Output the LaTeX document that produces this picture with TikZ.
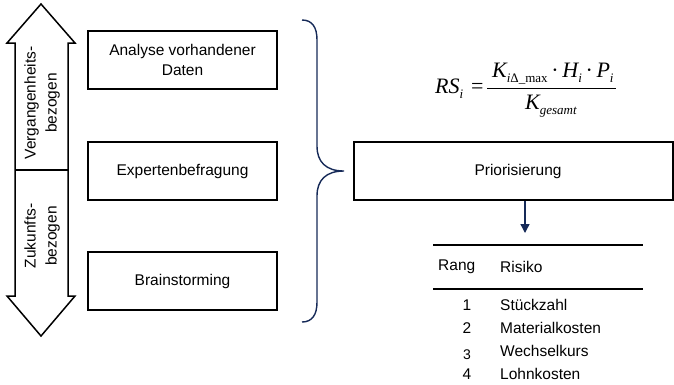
\documentclass[tikz,border=0pt]{standalone}
\usepackage{fontspec}
\setmainfont{Liberation Sans}
\newfontfamily\formfont{Liberation Serif}
\usetikzlibrary{arrows.meta}
\definecolor{navy}{RGB}{22,42,88}
\newcommand{\fsub}[1]{\raisebox{-5pt}{\fontsize{13}{13}\selectfont #1}}
\begin{document}
\begin{tikzpicture}[x=1pt,y=-1pt,
  font=\fontsize{15.5}{20}\selectfont,
  stepbox/.style={draw, line width=1.5pt, minimum width=189pt, minimum height=58pt,
    inner sep=0pt, align=center},
  plain/.style={inner sep=0pt},
  formula/.style={inner sep=0pt, anchor=base west, font=\formfont\fontsize{22}{22}\selectfont},
  bracestyle/.style={draw=navy, line width=1.4pt},
  rule/.style={draw, line width=1.5pt}]
\useasboundingbox (0,0) rectangle (674,384);

% double-headed time arrow
\draw[line width=1.5pt, line join=miter]
  (41,4) -- (75,43) -- (68,43) -- (68,296) -- (75,296) -- (41,336)
  -- (7,296) -- (15,296) -- (15,43) -- (7,43) -- cycle;
\draw[line width=1.5pt] (15,170) -- (68,170);
\node[plain, rotate=90, align=center, font=\fontsize{15.5}{21}\selectfont] (past) at (42,103) {Vergangenheits-\\bezogen};
\node[plain, rotate=90, align=center, font=\fontsize{15.5}{21}\selectfont] (future) at (42,236) {Zukunfts-\\bezogen};

% sources
\node[stepbox] (data) at (182.5,60) {Analyse vorhandener\\Daten};
\node[stepbox] (experts) at (182.5,171) {Expertenbefragung};
\node[stepbox] (brain) at (182.5,281) {Brainstorming};

% curly brace
\draw[bracestyle]
  (302,20) .. controls (312,20) and (317,27) .. (317,40)
  -- (317,146) .. controls (317,162) and (326,171) .. (344,171)
  .. controls (326,171) and (317,180) .. (317,196)
  -- (317,302) .. controls (317,315) and (312,322) .. (302,322);

% prioritisation
\node[draw, line width=1.5pt, minimum width=319pt, minimum height=58pt, inner sep=0pt]
  (prio) at (513.5,171) {};
\node[plain] (prioText) at (518,171) {Priorisierung};
\coordinate (tip) at (525,233);
\draw[navy, line width=1.4pt, -{Triangle[width=9pt,length=9pt]}] (prio.south -| tip) -- (tip);

% formula
\node[formula] (rs) at (435,93) {\itshape RS\fsub{i}};
\node[formula] (eq) at (471,93) {=};
\coordinate (barL) at (487,88);
\coordinate (barR) at (616,88);
\draw[line width=0.9pt] (barL) -- (barR);
\node[formula] (num) at (492,77)
  {\itshape K\fsub{\itshape i\upshape Δ\_max}\,\upshape·\,\itshape H\fsub{\itshape i}\,\upshape·\,\itshape P\fsub{\itshape i}};
\node[formula] (den) at (525,109) {\itshape K\fsub{\itshape gesamt}};

% ranking table
\coordinate (r1a) at (433,245);
\coordinate (r1b) at (643,245);
\coordinate (r2a) at (433,289);
\coordinate (r2b) at (643,289);
\draw[rule] (r1a) -- (r1b);
\draw[rule] (r2a) -- (r2b);
\node[plain, anchor=west] (hRang) at (438,267) {Rang};
\node[plain, anchor=west] (hRisk) at (500,267) {Risiko};
\node[plain] (n1) at (467,305) {1};
\node[plain, anchor=west] (k1) at (500,305) {Stückzahl};
\node[plain] (n2) at (467,328) {2};
\node[plain, anchor=west] (k2) at (500,328) {Materialkosten};
\node[plain, font=\fontsize{14}{16}\selectfont] (n3) at (467,355) {3};
\node[plain, anchor=west] (k3) at (500,351) {Wechselkurs};
\node[plain] (n4) at (467,374) {4};
\node[plain, anchor=west] (k4) at (500,374) {Lohnkosten};
\end{tikzpicture}
\end{document}
